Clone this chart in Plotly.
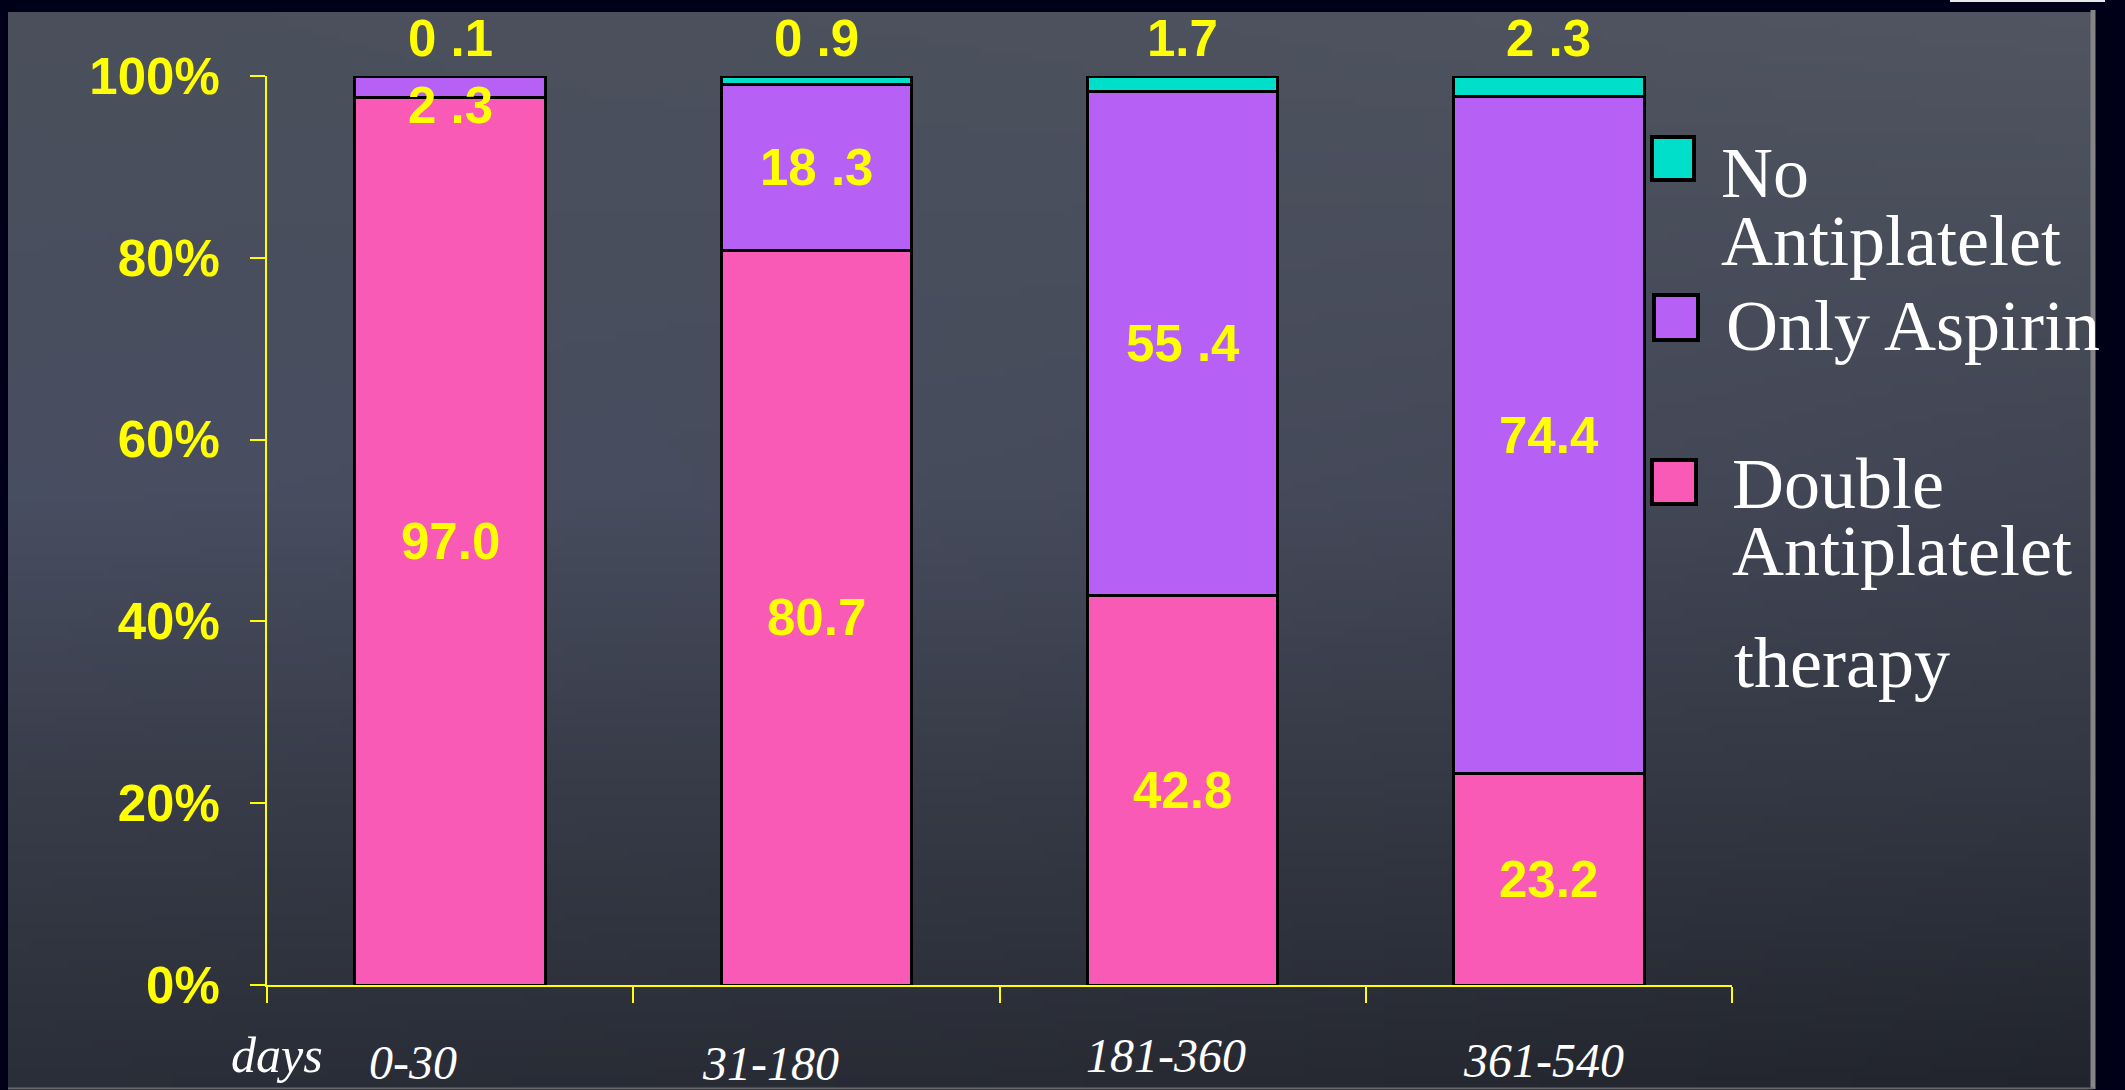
import base64
import struct
import zlib

import plotly.graph_objects as go

# ---- data -------------------------------------------------------------
categories = ["0-30", "31-180", "181-360", "361-540"]
double_therapy = [97.0, 80.7, 42.8, 23.2]
only_aspirin = [2.3, 18.3, 55.4, 74.4]
no_antiplatelet = [0.1, 0.9, 1.7, 2.3]

double_labels = ["97.0", "80.7", "42.8", "23.2"]
aspirin_labels = ["2 .3", "18 .3", "55 .4", "74.4"]
none_labels = ["0 .1", "0 .9", "1.7", "2 .3"]

y_tick_values = [0, 20, 40, 60, 80, 100]
y_tick_text = ["0%", "20%", "40%", "60%", "80%", "100%"]

series_names = ["Double Antiplatelet therapy", "Only Aspirin", "No Antiplatelet"]
axis_caption = "days"

# ---- styling ----------------------------------------------------------
W, H = 2125, 1090
PL, PR, PT, PB = 267, 1732, 76, 985          # plot-area edges in pixels
YELLOW = "#ffff00"
PINK, PURPLE, CYAN = "#f95ab5", "#b760f5", "#00dfca"
FRAME = "#000018"
SANS = "Liberation Sans, Arial, sans-serif"
SERIF = "Liberation Serif, Times New Roman, serif"


def px_x(px):
    return (px - PL) / (PR - PL)


def px_y(py):
    return (PB - py) / (PB - PT)


# ---- chalkboard backdrop (smooth colour field encoded as a PNG) --------
def _interp(knots, vals, t):
    for k in range(len(knots) - 1):
        if t <= knots[k + 1]:
            f = (t - knots[k]) / (knots[k + 1] - knots[k])
            return tuple(vals[k][c] + (vals[k + 1][c] - vals[k][c]) * f for c in range(3))
    return vals[-1]


def board_png(w, h):
    col_knots = [0.0, 0.48, 1.0]
    row_knots = [0.0, 0.45, 0.73, 1.0]
    grid = [
        [(74, 79, 91), (76, 81, 93), (80, 85, 97)],
        [(72, 78, 97), (70, 75, 92), (64, 68, 82)],
        [(56, 60, 73), (54, 58, 70), (50, 54, 66)],
        [(42, 46, 56), (40, 43, 52), (33, 36, 44)],
    ]
    raw = bytearray()
    for j in range(h):
        v = j / (h - 1)
        row_cols = [_interp(row_knots, [grid[r][c] for r in range(4)], v) for c in range(3)]
        raw.append(0)
        for i in range(w):
            u = i / (w - 1)
            r, g, b = _interp(col_knots, row_cols, u)
            raw.extend((int(round(r)), int(round(g)), int(round(b))))

    def chunk(tag, data):
        body = struct.pack(">I", len(data)) + tag + data
        return body + struct.pack(">I", zlib.crc32(tag + data) & 0xFFFFFFFF)

    ihdr = struct.pack(">IIBBBBB", w, h, 8, 2, 0, 0, 0)
    png = (b"\x89PNG\r\n\x1a\n" + chunk(b"IHDR", ihdr)
           + chunk(b"IDAT", zlib.compress(bytes(raw), 9)) + chunk(b"IEND", b""))
    return "data:image/png;base64," + base64.b64encode(png).decode()


# ---- bars -------------------------------------------------------------
fig = go.Figure()
for name, vals, color in zip(series_names,
                             [double_therapy, only_aspirin, no_antiplatelet],
                             [PINK, PURPLE, CYAN]):
    fig.add_trace(go.Bar(
        x=categories, y=vals, name=name, width=0.52,
        marker=dict(color=color, line=dict(color="black", width=3)),
        hoverinfo="x+y+name",
    ))

# ---- value labels (placed at the normalised segment centres) ----------
annotations = []
label_font = dict(family=SANS, size=51, color=YELLOW, weight="bold")
px_per_pct = (PB - PT) / 100.0
min_gap_below_top = 30  # keep a label in a thin top segment clear of the total label
for i, cat in enumerate(categories):
    total = double_therapy[i] + only_aspirin[i] + no_antiplatelet[i]
    d = double_therapy[i] / total * 100
    a = only_aspirin[i] / total * 100
    mid_a = d + a / 2
    gap = (100 - mid_a) * px_per_pct
    nudge = -(min_gap_below_top - gap) if gap < min_gap_below_top else 0
    annotations.append(dict(x=cat, y=d / 2, xref="x", yref="y", text=double_labels[i],
                            showarrow=False, font=label_font,
                            xanchor="center", yanchor="middle"))
    annotations.append(dict(x=cat, y=mid_a, xref="x", yref="y", text=aspirin_labels[i],
                            showarrow=False, font=label_font, yshift=nudge,
                            xanchor="center", yanchor="middle"))
    annotations.append(dict(x=cat, y=100, xref="x", yref="y", text=none_labels[i],
                            showarrow=False, font=label_font, yshift=38,
                            xanchor="center", yanchor="middle"))

# ---- category labels under the axis ----------------------------------
cat_nudge = [-37, -46, -17, -5]
cat_centre_y = [1062, 1063, 1055, 1060]
cat_font = dict(family=SERIF, size=48, color="white", style="italic")
for i, cat in enumerate(categories):
    annotations.append(dict(x=cat, xref="x", y=px_y(cat_centre_y[i]), yref="paper",
                            text=cat, showarrow=False, xshift=cat_nudge[i], font=cat_font,
                            xanchor="center", yanchor="middle"))
annotations.append(dict(x=px_x(277), xref="paper", y=px_y(1055), yref="paper",
                        text=axis_caption, showarrow=False,
                        xanchor="center", yanchor="middle",
                        font=dict(family=SERIF, size=50, color="white", style="italic")))

# ---- legend (swatches + multi-line serif text) -----------------------
legend_entries = [
    (CYAN, (1652, 137, 1694, 180), [("No", 1719, 173), ("Antiplatelet", 1719, 241)]),
    (PURPLE, (1654, 295, 1698, 340), [("Only Aspirin", 1724, 326)]),
    (PINK, (1652, 460, 1696, 504), [("Double", 1730, 484), ("Antiplatelet", 1730, 551),
                                    ("therapy", 1732, 663)]),
]
shapes = []
for color, (x0, y0, x1, y1), lines in legend_entries:
    shapes.append(dict(type="rect", xref="paper", yref="paper",
                       x0=px_x(x0), x1=px_x(x1), y0=px_y(y1), y1=px_y(y0),
                       fillcolor=color, line=dict(color="black", width=4)))
    for text, lx, ly in lines:
        annotations.append(dict(x=px_x(lx), y=px_y(ly), xref="paper", yref="paper",
                                xanchor="left", yanchor="middle", text=text, showarrow=False,
                                font=dict(family=SERIF, size=72, color="white")))

# board edges
shapes.append(dict(type="line", xref="paper", yref="paper", layer="below",
                   x0=px_x(2093), x1=px_x(2093), y0=px_y(10), y1=px_y(1089),
                   line=dict(color="#858585", width=5)))
shapes.append(dict(type="line", xref="paper", yref="paper", layer="below",
                   x0=px_x(8), x1=px_x(2093), y0=px_y(1088.5), y1=px_y(1088.5),
                   line=dict(color="#6a6a6a", width=2)))
shapes.append(dict(type="line", xref="paper", yref="paper",
                   x0=px_x(1950), x1=px_x(2105), y0=px_y(1), y1=px_y(1),
                   line=dict(color="#e8e8e8", width=2)))

board_left, board_top, board_right, board_bottom = 8, 12, 2093, 1088
fig.update_layout(
    width=W, height=H,
    margin=dict(l=PL, r=W - PR, t=PT, b=H - PB, pad=0),
    barmode="stack", barnorm="percent",
    showlegend=False,
    paper_bgcolor=FRAME, plot_bgcolor="rgba(0,0,0,0)",
    images=[dict(source=board_png(160, 120), xref="paper", yref="paper",
                 x=px_x(board_left), y=px_y(board_top),
                 sizex=(board_right - board_left) / (PR - PL),
                 sizey=(board_bottom - board_top) / (PB - PT),
                 xanchor="left", yanchor="top", sizing="stretch", layer="below")],
    xaxis=dict(range=[-0.5, 3.5], showline=True, linecolor=YELLOW, linewidth=2,
               ticks="outside", tickson="boundaries", ticklen=16, tickwidth=2,
               tickcolor=YELLOW, showticklabels=False, showgrid=False, zeroline=False),
    yaxis=dict(range=[0, 100], showline=True, linecolor=YELLOW, linewidth=2,
               ticks="outside", ticklen=15, tickwidth=2, tickcolor=YELLOW,
               tickvals=y_tick_values, ticktext=y_tick_text,
               tickfont=dict(family=SANS, size=51, color=YELLOW, weight="bold"),
               ticklabelstandoff=20, showgrid=False, zeroline=False),
    annotations=annotations,
    shapes=shapes,
)

fig.write_html("out.html")
